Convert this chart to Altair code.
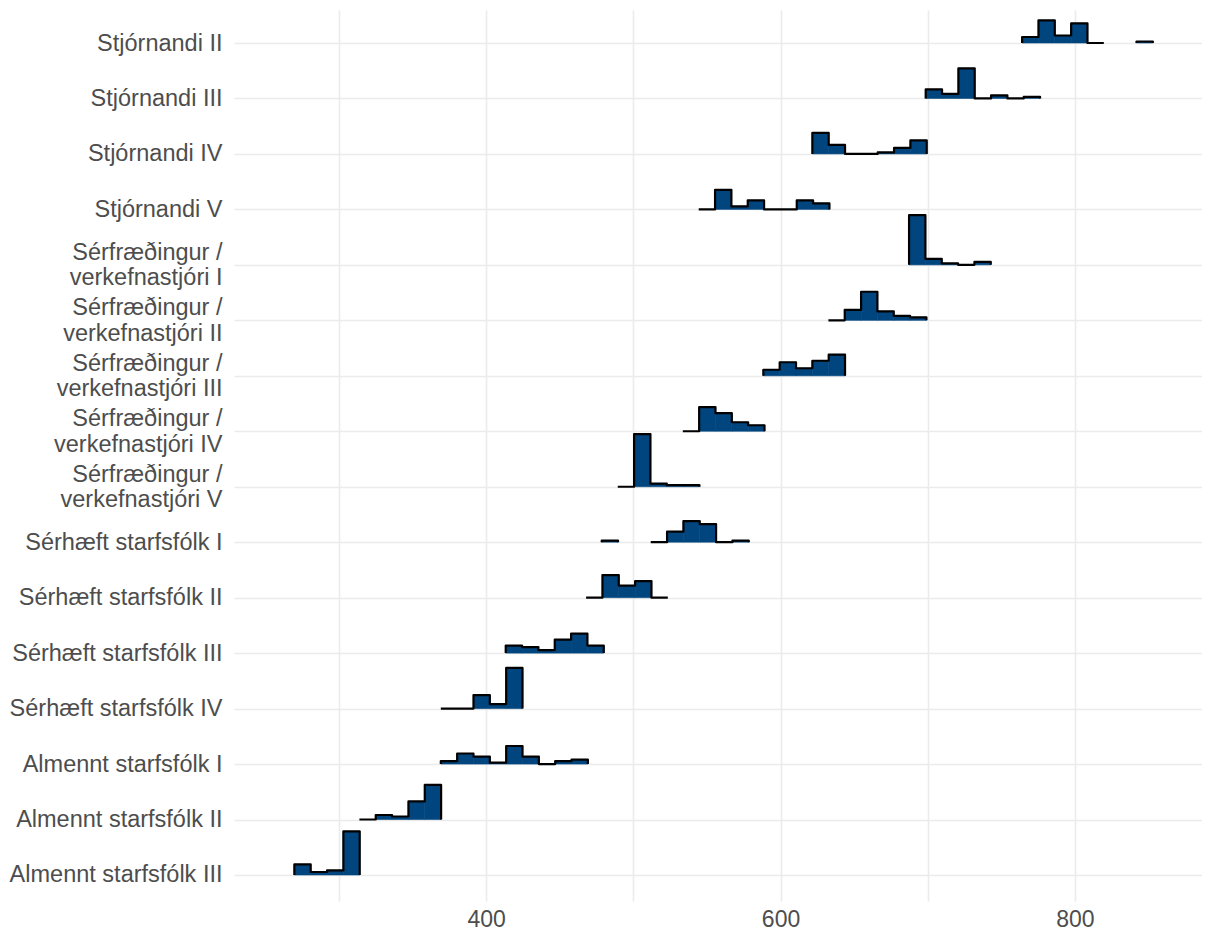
import json
import altair as alt
import pandas as pd

# Categories, top to bottom
categories = [
    "Stjórnandi II",
    "Stjórnandi III",
    "Stjórnandi IV",
    "Stjórnandi V",
    "Sérfræðingur / verkefnastjóri I",
    "Sérfræðingur / verkefnastjóri II",
    "Sérfræðingur / verkefnastjóri III",
    "Sérfræðingur / verkefnastjóri IV",
    "Sérfræðingur / verkefnastjóri V",
    "Sérhæft starfsfólk I",
    "Sérhæft starfsfólk II",
    "Sérhæft starfsfólk III",
    "Sérhæft starfsfólk IV",
    "Almennt starfsfólk I",
    "Almennt starfsfólk II",
    "Almennt starfsfólk III",
]

# left edge of the first bin of each ridge
bin_starts = [764.1, 698.6, 621.6, 544.4, 687.3, 632.5, 588.3, 533.6,
              489.4, 478.5, 467.9, 413.3, 369.2, 369.2, 313.9, 269.7]
bin_width = 11.1

# bin counts per ridge (None = bin not drawn)
bin_counts = [
    [4, 15, 5, 13, 0, None, None, 1],
    [6, 3, 20, 0, 2, 0, 1],
    [14, 6, 0, 0, 1, 4, 9],
    [0, 13, 2, 6, 0, 0, 6, 4],
    [33, 4, 1, 0, 2],
    [0, 7, 19, 6, 3, 2],
    [4, 9, 5, 10, 14],
    [0, 16, 12, 6, 4],
    [0, 35, 2, 1, 1],
    [1, None, None, 0, 7, 14, 12, 0, 1],
    [0, 15, 8, 11, 0],
    [5, 4, 2, 9, 13, 5],
    [0, 0, 9, 3, 27],
    [2, 7, 5, 1, 12, 5, 0, 2, 3],
    [0, 3, 2, 12, 23],
    [7, 2, 3, 29],
]

x_ticks = [300, 400, 500, 600, 700, 800]

max_count = max(c for cs in bin_counts for c in cs if c is not None)
ridge_scale = 0.95
n = len(categories)

line_rows, bar_rows = [], []
for i, (name, x0, cs) in enumerate(zip(categories, bin_starts, bin_counts)):
    base = n - 1 - i
    segs, seg = [], []
    for j, c in enumerate(cs):
        if c is None:
            if seg:
                segs.append(seg)
            seg = []
        else:
            a, b = x0 + j * bin_width, x0 + (j + 1) * bin_width
            seg.append((a, b, c))
            if c > 0:
                bar_rows.append({"x": a, "x2": b, "base": base,
                                 "top": base + c / max_count * ridge_scale})
    if seg:
        segs.append(seg)
    for k, s in enumerate(segs):
        pts = [(s[0][0], 0)]
        for a, b, c in s:
            pts += [(a, c), (b, c)]
        pts.append((s[-1][1], 0))
        for o, (x, c) in enumerate(pts):
            line_rows.append({"seg": f"{i}-{k}", "o": o, "x": x,
                              "y": base + c / max_count * ridge_scale})
df_line = pd.DataFrame(line_rows)
df_bar = pd.DataFrame(bar_rows)

labels_by_base = [c.replace(" / ", " /|") for c in categories][::-1]
label_expr = "split(" + json.dumps(labels_by_base, ensure_ascii=False) + "[round(datum.value)], '|')"
two_line = [n - 1 - i for i, c in enumerate(categories) if " / " in c]
two_line_test = " || ".join(f"datum.value == {v}" for v in two_line)

font = "Liberation Sans"
xscale = alt.Scale(domain=[228.7, 886.3], nice=False, zero=False)
yscale = alt.Scale(domain=[-0.469, 15.595], nice=False, zero=False)

xaxis = alt.Axis(values=x_ticks, title=None, grid=True, ticks=False, tickSize=0,
                 domain=False, labelExpr="datum.value % 200 == 0 ? datum.label : ''",
                 labelFont=font, labelFontSize=23, labelColor="#4D4D4D",
                 labelPadding=7, labelFlush=False, gridColor="#EBEBEB", gridWidth=1.6)
yaxis = alt.Axis(values=list(range(n)), title=None, grid=True, ticks=False, tickSize=0,
                 domain=False, labelExpr=label_expr, labelFont=font, labelFontSize=23.5,
                 labelColor="#4D4D4D", labelPadding=12, labelFlush=False,
                 labelOverlap=False, labelLineHeight=25.5, labelAlign="right",
                 labelLimit=500,
                 labelOffset={"condition": {"test": two_line_test, "value": -12.5}, "value": 0},
                 gridColor="#EBEBEB", gridWidth=1.6)

fill = alt.Chart(df_bar).mark_rect(color="#00457E", stroke="#00457E", strokeWidth=0.6).encode(
    x=alt.X("x:Q", scale=xscale, axis=xaxis),
    x2="x2:Q",
    y=alt.Y("base:Q", scale=yscale, axis=yaxis),
    y2="top:Q",
)
outline = alt.Chart(df_line).mark_line(color="black", strokeWidth=2.2, strokeJoin="round").encode(
    x=alt.X("x:Q", scale=xscale, axis=xaxis),
    y=alt.Y("y:Q", scale=yscale, axis=yaxis),
    detail="seg:N",
    order="o:Q",
)

chart = alt.layer(fill, outline).properties(
    width=968, height=891,
    background="white",
    autosize=alt.AutoSizeParams(type="none"),
    padding={"left": 226, "top": 2, "right": 0, "bottom": 32},
).configure_view(strokeWidth=0, stroke="transparent")

chart.save("out.html", embed_options={"renderer": "svg", "actions": False})
